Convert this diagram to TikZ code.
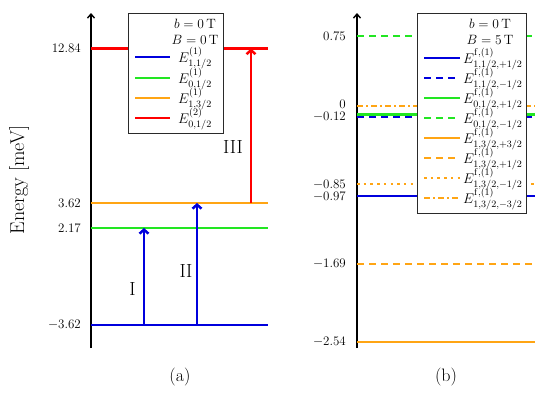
\RequirePackage{fix-cm}
\documentclass[tikz,border=0pt]{standalone}
\usetikzlibrary{arrows.meta, positioning, calc}
\definecolor{LevBlue}{HTML}{0000DD}
\definecolor{LevGreen}{HTML}{22E622}
\definecolor{LevOrange}{HTML}{FFA514}
\definecolor{LevRed}{HTML}{FF0000}
\definecolor{FrameGray}{HTML}{2A2A2A}
\tikzset{
  axis/.style={-{Straight Barb[length=4pt, width=7pt]}, line width=1.4pt, draw=black},
  level/.style={line width=2.5pt},
  lvsolid/.style={solid},
  lvdash/.style={dash pattern=on 7pt off 5pt},
  lvdot/.style={dash pattern=on 2.5pt off 4.2pt},
  lvdashdot/.style={dash pattern=on 6pt off 3pt on 2pt off 3pt},
  trans/.style={-{Straight Barb[length=4pt, width=9pt]}, line width=2.5pt},
  legendbox/.style={draw=FrameGray, line width=1pt, fill=white, inner sep=0pt},
  ticklabel/.style={anchor=east, font=\fontsize{13}{15}\selectfont, inner sep=1pt},
  legtext/.style={anchor=base west, font=\fontsize{14}{16}\selectfont, inner sep=0pt},
  leghead/.style={anchor=base, font=\fontsize{13.5}{16}\selectfont, inner sep=0pt},
  numeral/.style={font=\fontsize{19}{21}\selectfont},
  caption/.style={font=\fontsize{18}{21}\selectfont}
}
\begin{document}
\begin{tikzpicture}[x=1pt,y=-1pt]
\useasboundingbox (0,0) rectangle (550,392);

% (a)
\draw[axis] (91,348) -- (91,13);
\foreach \y/\col/\lab [count=\i] in {48.5/LevRed/12.84, 203/LevOrange/3.62, 228/LevGreen/2.17, 325/LevBlue/{$-3.62$}}
{
  \draw[level, draw=\col] (91,\y) -- (268,\y);
  \node[ticklabel] (ta\i) at (82,\y) {\lab};
}
\node[rotate=90, font=\fontsize{20}{24}\selectfont] (ylab) at (19,180) {Energy [meV]};

\coordinate (Ia) at (144,325);
\coordinate (Ib) at (144,228);
\coordinate (IIa) at (197,325);
\coordinate (IIb) at (197,203);
\coordinate (IIIa) at (251,203);
\coordinate (IIIb) at (251,48.5);
\draw[trans, draw=LevBlue] (Ia) -- (Ib);
\draw[trans, draw=LevBlue] (IIa) -- (IIb);
\draw[trans, draw=LevRed] (IIIa) -- (IIIb);
\node[numeral] (nI) at (132.5,289.5) {I};
\node[numeral] (nII) at (186,271.5) {II};
\node[numeral] (nIII) at (233,147) {III};

\node[legendbox, minimum width=95pt, minimum height=120pt] (legA) at (175.5,73) {};
\node[leghead] (legAb) at (195,28) {$b=0\,\mathrm{T}$};
\node[leghead] (legAB) at (195,44) {$B=0\,\mathrm{T}$};
\foreach \y/\col/\txt [count=\i] in {57/LevBlue/{$E^{(1)}_{1,1/2}$}, 78/LevGreen/{$E^{(1)}_{0,1/2}$}, 98/LevOrange/{$E^{(1)}_{1,3/2}$}, 118/LevRed/{$E^{(2)}_{0,1/2}$}}
{
  \draw[level, draw=\col] (135,\y) -- (170,\y);
  \node[legtext] (la\i) at (178,\y+5) {\txt};
}
\node[caption] (capA) at (180,377) {(a)};

% (b)
\draw[axis] (357,348) -- (357,13);
\foreach \y/\col/\pat in {36/LevGreen/lvdash, 106/LevOrange/lvdashdot, 114.5/LevGreen/lvsolid, 117/LevBlue/lvdash, 184/LevOrange/lvdot, 196/LevBlue/lvsolid, 264/LevOrange/lvdash, 342/LevOrange/lvsolid}
  \draw[level, draw=\col, \pat] (357,\y) -- (535,\y);
\foreach \y/\lab [count=\i] in {36/0.75, 104/0, 117/{$-0.12$}, 184.5/{$-0.85$}, 196.5/{$-0.97$}, 264/{$-1.69$}, 342/{$-2.54$}}
  \node[ticklabel] (tb\i) at (347,\y) {\lab};

\node[legendbox, minimum width=109pt, minimum height=200pt] (legB) at (471.5,113) {};
\node[leghead] (legBb) at (490,28) {$b=0\,\mathrm{T}$};
\node[leghead] (legBB) at (490,44) {$B=5\,\mathrm{T}$};
\foreach \y/\col/\pat/\txt [count=\i] in {
58/LevBlue/lvsolid/{$E^{\mathrm{f},(1)}_{1,1/2,+1/2}$},
78/LevBlue/lvdash/{$E^{\mathrm{f},(1)}_{1,1/2,-1/2}$},
98/LevGreen/lvsolid/{$E^{\mathrm{f},(1)}_{0,1/2,+1/2}$},
118/LevGreen/lvdash/{$E^{\mathrm{f},(1)}_{0,1/2,-1/2}$},
138/LevOrange/lvsolid/{$E^{\mathrm{f},(1)}_{1,3/2,+3/2}$},
158/LevOrange/lvdash/{$E^{\mathrm{f},(1)}_{1,3/2,+1/2}$},
178/LevOrange/lvdot/{$E^{\mathrm{f},(1)}_{1,3/2,-1/2}$},
198/LevOrange/lvdashdot/{$E^{\mathrm{f},(1)}_{1,3/2,-3/2}$}}
{
  \draw[level, draw=\col, \pat] (424,\y) -- (460,\y);
  \node[legtext] (lb\i) at (463,\y+5) {\txt};
}
\node[caption] (capB) at (446,377) {(b)};
\end{tikzpicture}
\end{document}
